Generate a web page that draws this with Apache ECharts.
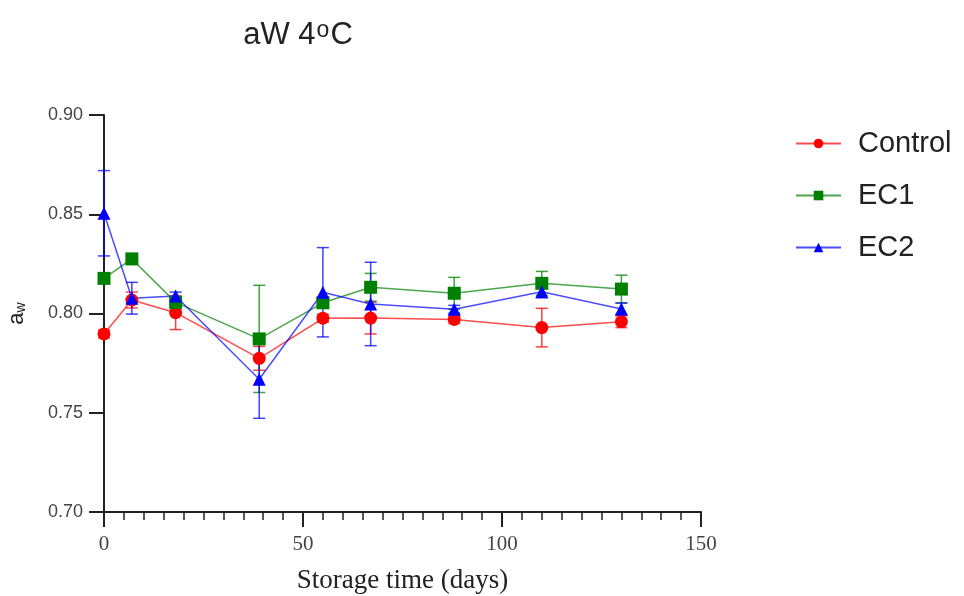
<!DOCTYPE html>
<html><head><meta charset="utf-8">
<script src="https://cdn.jsdelivr.net/npm/echarts@6/dist/echarts.min.js"></script>
<style>html,body{margin:0;padding:0;background:#fff}#c{width:964px;height:596px}</style>
</head><body><div id="c"></div>
<script>
const days = [0, 7, 18, 39, 55, 67, 88, 110, 130];
const controlMean = [0.7897, 0.8068, 0.8004, 0.7774, 0.7976, 0.7977, 0.7970, 0.7929, 0.7959];
const controlErr  = [0.002, 0.004, 0.0085, 0.006, 0.002, 0.008, 0.002, 0.0097, 0.003];
const ec1Mean = [0.8177, 0.8275, 0.8056, 0.7872, 0.8054, 0.8132, 0.8102, 0.8152, 0.8123];
const ec1Err  = [0.002, 0.002, 0.002, 0.027, 0.002, 0.007, 0.008, 0.006, 0.007];
const ec2Mean = [0.8505, 0.8077, 0.8088, 0.7669, 0.8107, 0.8048, 0.8021, 0.8110, 0.8023];
const ec2Err  = [0.0215, 0.008, 0.002, 0.0197, 0.0225, 0.021, 0.002, 0.003, 0.003];
const seriesNames = ['Control', 'EC1', 'EC2'];
const colors = ['#ff0000', '#008000', '#0000ff'];
const symbols = ['circle', 'rect', 'triangle'];

const means = [controlMean, ec1Mean, ec2Mean];
const errs = [controlErr, ec1Err, ec2Err];

const chart = echarts.init(document.getElementById('c'));
const series = [];
means.forEach((m, i) => {
  series.push({
    name: seriesNames[i] + ' err',
    type: 'custom',
    z: 1,
    data: days.map((d, k) => [d, m[k] - errs[i][k], m[k] + errs[i][k]]),
    renderItem: function (params, api) {
      const x = api.value(0);
      const lo = api.coord([x, api.value(1)]);
      const hi = api.coord([x, api.value(2)]);
      const hw = 6;
      const st = { stroke: colors[i], lineWidth: 1.5, opacity: 0.75 };
      return { type: 'group', children: [
        { type: 'line', shape: { x1: lo[0], y1: lo[1], x2: hi[0], y2: hi[1] }, style: st },
        { type: 'line', shape: { x1: lo[0] - hw, y1: lo[1], x2: lo[0] + hw, y2: lo[1] }, style: st },
        { type: 'line', shape: { x1: hi[0] - hw, y1: hi[1], x2: hi[0] + hw, y2: hi[1] }, style: st }
      ]};
    },
    silent: true
  });
});
means.forEach((m, i) => {
  series.push({
    name: seriesNames[i],
    type: 'line',
    z: 3,
    data: days.map((d, k) => [d, m[k]]),
    symbol: symbols[i],
    symbolSize: 13,
    itemStyle: { color: colors[i] },
    lineStyle: { color: colors[i], width: 1.5, opacity: 0.7 }
  });
});

chart.setOption({
  animation: false,
  backgroundColor: '#fff',
  title: {
    text: '{t|aW 4}{o|o}{t|C}', left: 293, top: 14, textAlign: 'center',
    textStyle: { fontWeight: 'normal', rich: {
      t: { fontFamily: 'Liberation Sans', fontSize: 31, fontWeight: 'normal', color: '#222' },
      o: { fontFamily: 'Liberation Sans', fontSize: 23, fontWeight: 'normal', color: '#222', verticalAlign: 'top', padding: [0, 1, 10, 1] }
    } }
  },
  legend: {
    data: seriesNames,
    orient: 'vertical', left: 790, top: 124, itemGap: 23,
    itemWidth: 45, itemHeight: 12,
    textStyle: { fontFamily: 'Liberation Sans', fontSize: 29, color: '#222', padding: [0, 0, 0, 12] }
  },
  grid: { left: 104, right: 263, top: 115, bottom: 84, containLabel: false, outerBoundsMode: 'none' },
  xAxis: {
    type: 'value', min: 0, max: 150, interval: 50,
    name: 'Storage time (days)', nameLocation: 'middle', nameGap: 55,
    nameTextStyle: { fontFamily: 'Liberation Serif', fontSize: 27, color: '#222' },
    axisLine: { onZero: false, lineStyle: { color: '#222', width: 2 } },
    axisTick: { length: 15, inside: false, lineStyle: { color: '#222', width: 2 } },
    minorTick: { show: true, splitNumber: 10, length: 8, lineStyle: { color: '#222', width: 1.5 } },
    axisLabel: { fontFamily: 'Liberation Serif', fontSize: 21, color: '#444', margin: 22 },
    splitLine: { show: false }
  },
  yAxis: {
    type: 'value', min: 0.70, max: 0.90, interval: 0.05,
    name: '{a|a}{s|w}', nameLocation: 'middle', nameGap: 76, nameRotate: 90,
    nameTextStyle: { rich: {
      a: { fontFamily: 'Liberation Sans', fontSize: 22, color: '#222' },
      s: { fontFamily: 'Liberation Sans', fontSize: 14, color: '#222', verticalAlign: 'bottom', padding: [9, 0, 0, 0] }
    } },
    axisLine: { lineStyle: { color: '#222', width: 2 } },
    axisTick: { length: 15, lineStyle: { color: '#222', width: 2 } },
    axisLabel: { fontFamily: 'Liberation Sans', fontSize: 18, color: '#444', margin: 21,
      formatter: v => v.toFixed(2) },
    splitLine: { show: false }
  },
  series: series
});
</script></body></html>
